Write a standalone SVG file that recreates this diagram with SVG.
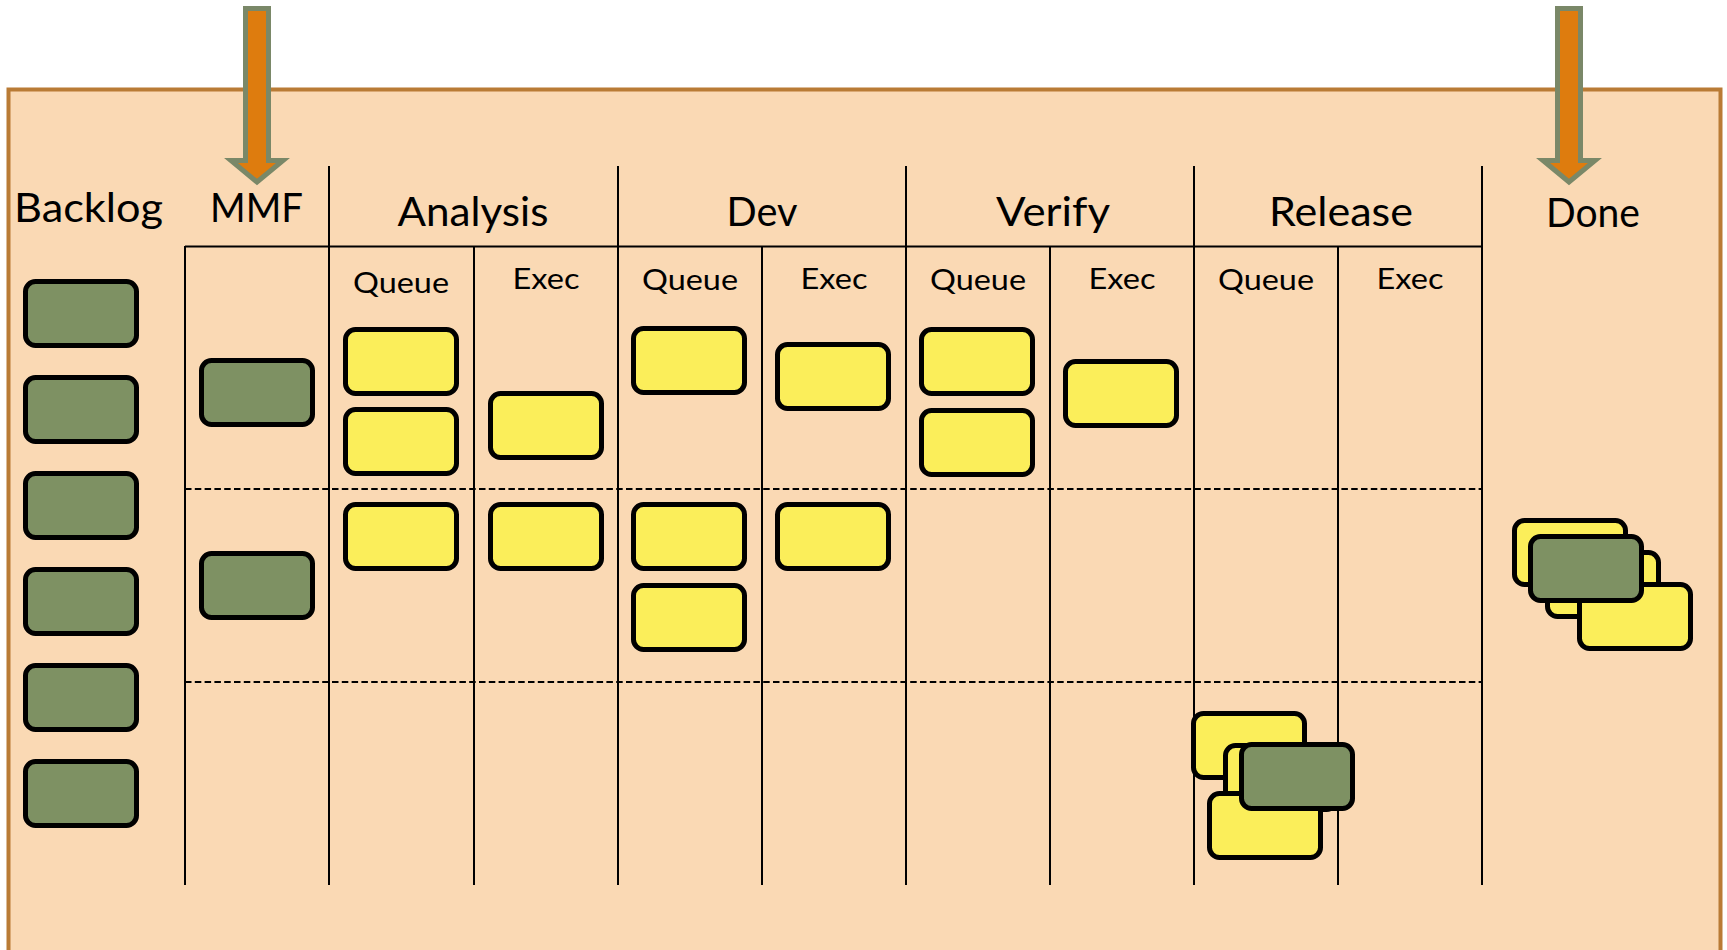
<svg xmlns="http://www.w3.org/2000/svg" width="1727" height="950" viewBox="0 0 1727 950">
  <style>
    .board { fill:#FAD9B4; stroke:#B97B35; stroke-width:4; }
    .grid { stroke:#000; stroke-width:2; fill:none; }
    .dash { stroke-dasharray:6.5 3.3; }
    .card { stroke:#000; stroke-width:5; }
    .story { fill:#FBEE5A; }
    .feature { fill:#7E9163; }
    .pull { fill:#DE7C0E; stroke:#7A8868; stroke-width:5; stroke-linejoin:miter; }
    .phase { font-family:Lato, "DejaVu Sans", sans-serif; font-size:40px; fill:#000; text-anchor:middle; }
    .step { font-family:Lato, "DejaVu Sans", sans-serif; font-size:29px; fill:#000; text-anchor:middle; }
  </style>

  <!-- board background -->
  <rect class="board" x="8.5" y="89.5" width="1712" height="900"/>

  <!-- column grid -->
  <g id="grid" class="grid">
    <line x1="185" y1="246.5" x2="1482" y2="246.5"/>
    <line class="dash" x1="185" y1="489" x2="1482" y2="489"/>
    <line class="dash" x1="185" y1="682" x2="1482" y2="682"/>
    <line x1="329" y1="166" x2="329" y2="885"/>
    <line x1="618" y1="166" x2="618" y2="885"/>
    <line x1="906" y1="166" x2="906" y2="885"/>
    <line x1="1194" y1="166" x2="1194" y2="885"/>
    <line x1="1482" y1="166" x2="1482" y2="885"/>
    <line x1="185" y1="246" x2="185" y2="885"/>
    <line x1="474" y1="246" x2="474" y2="885"/>
    <line x1="762" y1="246" x2="762" y2="885"/>
    <line x1="1050" y1="246" x2="1050" y2="885"/>
    <line x1="1338" y1="246" x2="1338" y2="885"/>
  </g>

  <!-- column headings -->
  <g id="headings">
    <text class="phase" x="88.5" y="222" textLength="149" lengthAdjust="spacingAndGlyphs">Backlog</text>
    <text class="phase" x="256.5" y="222" textLength="93" lengthAdjust="spacingAndGlyphs">MMF</text>
    <text class="phase" x="473" y="226" textLength="151" lengthAdjust="spacingAndGlyphs">Analysis</text>
    <text class="phase" x="762" y="226" textLength="71" lengthAdjust="spacingAndGlyphs">Dev</text>
    <text class="phase" x="1053" y="226" textLength="114" lengthAdjust="spacingAndGlyphs">Verify</text>
    <text class="phase" x="1341" y="226" textLength="144" lengthAdjust="spacingAndGlyphs">Release</text>
    <text class="phase" x="1593" y="227" textLength="94" lengthAdjust="spacingAndGlyphs">Done</text>
    <text class="step" x="401" y="293" textLength="96" lengthAdjust="spacingAndGlyphs">Queue</text>
    <text class="step" x="546" y="289" textLength="67" lengthAdjust="spacingAndGlyphs">Exec</text>
    <text class="step" x="690" y="290" textLength="96" lengthAdjust="spacingAndGlyphs">Queue</text>
    <text class="step" x="834" y="289" textLength="67" lengthAdjust="spacingAndGlyphs">Exec</text>
    <text class="step" x="978" y="290" textLength="96" lengthAdjust="spacingAndGlyphs">Queue</text>
    <text class="step" x="1122" y="289" textLength="67" lengthAdjust="spacingAndGlyphs">Exec</text>
    <text class="step" x="1266" y="290" textLength="96" lengthAdjust="spacingAndGlyphs">Queue</text>
    <text class="step" x="1410" y="289" textLength="67" lengthAdjust="spacingAndGlyphs">Exec</text>
  </g>

  <!-- backlog features -->
  <g id="backlog-1"><rect class="card feature" x="25.5" y="281.5" width="111" height="64" rx="10"/></g>
  <g id="backlog-2"><rect class="card feature" x="25.5" y="377.5" width="111" height="64" rx="10"/></g>
  <g id="backlog-3"><rect class="card feature" x="25.5" y="473.5" width="111" height="64" rx="10"/></g>
  <g id="backlog-4"><rect class="card feature" x="25.5" y="569.5" width="111" height="64" rx="10"/></g>
  <g id="backlog-5"><rect class="card feature" x="25.5" y="665.5" width="111" height="64" rx="10"/></g>
  <g id="backlog-6"><rect class="card feature" x="25.5" y="761.5" width="111" height="64" rx="10"/></g>

  <!-- MMF features -->
  <g id="mmf-1"><rect class="card feature" x="201.5" y="360.5" width="111" height="64" rx="10"/></g>
  <g id="mmf-2"><rect class="card feature" x="201.5" y="553.5" width="111" height="64" rx="10"/></g>

  <!-- analysis -->
  <g id="analysis-queue-1"><rect class="card story" x="345.5" y="329.5" width="111" height="64" rx="10"/></g>
  <g id="analysis-queue-2"><rect class="card story" x="345.5" y="409.5" width="111" height="64" rx="10"/></g>
  <g id="analysis-queue-3"><rect class="card story" x="345.5" y="504.5" width="111" height="64" rx="10"/></g>
  <g id="analysis-exec-1"><rect class="card story" x="490.5" y="393.5" width="111" height="64" rx="10"/></g>
  <g id="analysis-exec-2"><rect class="card story" x="490.5" y="504.5" width="111" height="64" rx="10"/></g>

  <!-- dev -->
  <g id="dev-queue-1"><rect class="card story" x="633.5" y="328.5" width="111" height="64" rx="10"/></g>
  <g id="dev-queue-2"><rect class="card story" x="633.5" y="504.5" width="111" height="64" rx="10"/></g>
  <g id="dev-queue-3"><rect class="card story" x="633.5" y="585.5" width="111" height="64" rx="10"/></g>
  <g id="dev-exec-1"><rect class="card story" x="777.5" y="344.5" width="111" height="64" rx="10"/></g>
  <g id="dev-exec-2"><rect class="card story" x="777.5" y="504.5" width="111" height="64" rx="10"/></g>

  <!-- verify -->
  <g id="verify-queue-1"><rect class="card story" x="921.5" y="329.5" width="111" height="64" rx="10"/></g>
  <g id="verify-queue-2"><rect class="card story" x="921.5" y="410.5" width="111" height="64" rx="10"/></g>
  <g id="verify-exec-1"><rect class="card story" x="1065.5" y="361.5" width="111" height="64" rx="10"/></g>

  <!-- release stack -->
  <g id="release-stack">
    <rect class="card story" x="1193.5" y="713.5" width="111" height="64" rx="10"/>
    <rect class="card story" x="1225.5" y="745.5" width="111" height="64" rx="10"/>
    <rect class="card story" x="1209.5" y="793.5" width="111" height="64" rx="10"/>
    <rect class="card feature" x="1241.5" y="744.5" width="111" height="64" rx="10"/>
  </g>

  <!-- done stack -->
  <g id="done-stack">
    <rect class="card story" x="1514.5" y="520.5" width="111" height="64" rx="10"/>
    <rect class="card story" x="1547.5" y="552.5" width="111" height="64" rx="10"/>
    <rect class="card story" x="1579.5" y="584.5" width="111" height="64" rx="10"/>
    <rect class="card feature" x="1530.5" y="536.5" width="111" height="64" rx="10"/>
  </g>

  <!-- pull arrows -->
  <g id="connectors">
    <polygon id="pull-mmf" class="pull" points="245.5,8.5 268.5,8.5 268.5,160.5 283,160.5 257,182 231,160.5 245.5,160.5"/>
    <polygon id="pull-done" class="pull" points="1557.5,8.5 1580.5,8.5 1580.5,160.5 1595,160.5 1569,182 1543,160.5 1557.5,160.5"/>
  </g>
</svg>
